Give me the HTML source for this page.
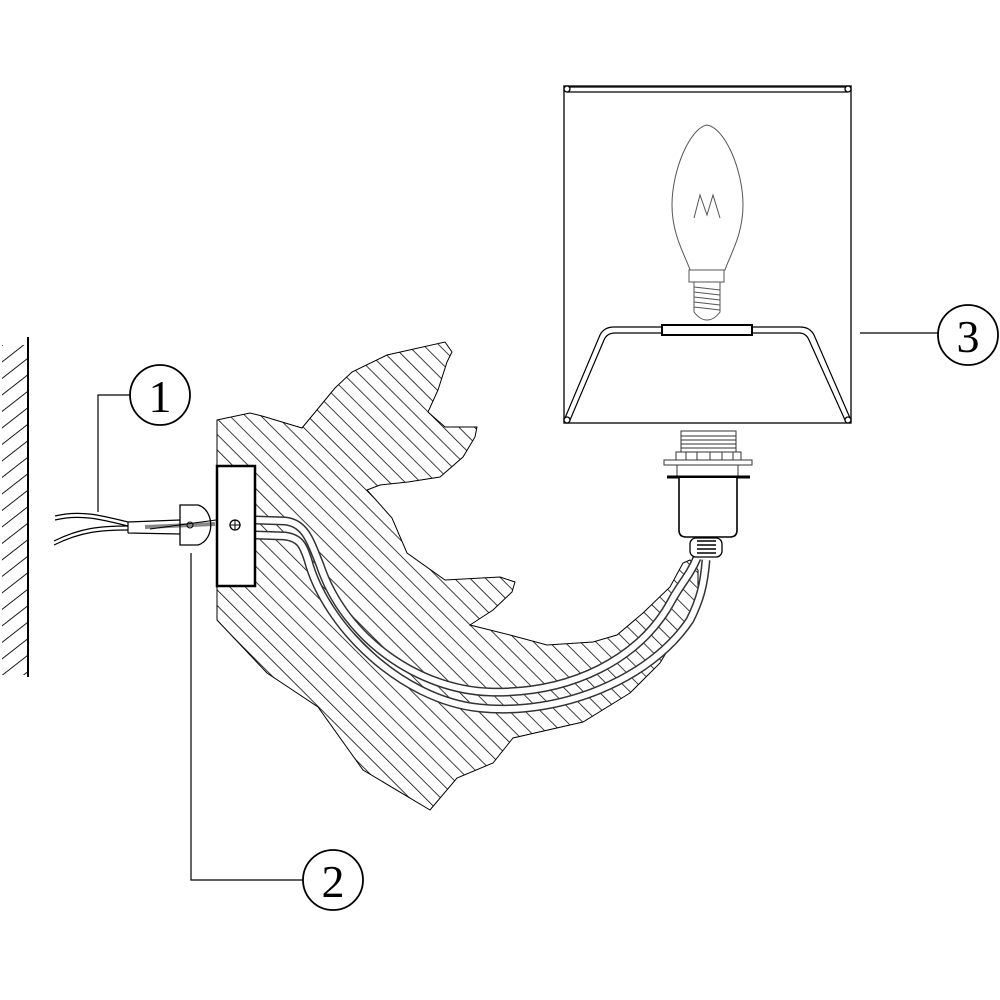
<!DOCTYPE html>
<html><head><meta charset="utf-8"><style>html,body{margin:0;padding:0;background:#fff}svg{display:block}</style></head>
<body>
<svg width="1000" height="1000" viewBox="0 0 1000 1000" xmlns="http://www.w3.org/2000/svg">
<defs>
<pattern id="h" width="11" height="11" patternUnits="userSpaceOnUse" patternTransform="rotate(-45)">
<line x1="0" y1="0" x2="0" y2="11" stroke="#000" stroke-width="1.5"/>
</pattern>
<pattern id="w" width="13" height="13" patternUnits="userSpaceOnUse" patternTransform="rotate(52)">
<line x1="0" y1="0" x2="0" y2="13" stroke="#000" stroke-width="1.8"/>
</pattern>
</defs>
<rect width="1000" height="1000" fill="#fff"/>

<!-- wall -->
<rect x="2" y="345" width="25" height="330" fill="url(#w)"/>
<line x1="28" y1="337" x2="28" y2="677" stroke="#000" stroke-width="2"/>

<!-- body -->
<path d="M217,420 L250,413 L262,416 L302,428 L335,388 L352,372 L387,355 L445,342 L452,352 L447,362 L438,390 L428,412 L445,427 L477,427 L475,437 L463,457 L440,477 L408,482 L380,485 L367,490 L392,518 L407,553 L445,580 L500,577 L515,582 L512,592 L493,610 L470,625 L510,635 L547,645 L593,642 L617,635 L643,613 L670,587 L683,563 L690,560 L698,570 L698,600 L680,630 L660,663 L630,693 L583,722 L513,738 L493,763 L457,778 L430,810 L363,770 L318,707 L267,673 L217,620 Z" fill="url(#h)" stroke="#000" stroke-width="1"/>

<!-- channel strips -->
<g fill="none" stroke-linecap="butt">
<path d="M255,520 L285,521 C305,523 310,540 320,565 C345,640 420,690 490,692 C570,694 640,660 672,600 C680,585 690,575 697,558" stroke="#333" stroke-width="9"/>
<path d="M255,520 L285,521 C305,523 310,540 320,565 C345,640 420,690 490,692 C570,694 640,660 672,600 C680,585 690,575 697,558" stroke="#fff" stroke-width="6"/>
<path d="M255,535 L285,536 C300,538 303,545 308,560 C325,625 400,700 480,708 C560,716 650,680 690,620 C700,600 704,585 706,560" stroke="#333" stroke-width="9"/>
<path d="M255,535 L285,536 C300,538 303,545 308,560 C325,625 400,700 480,708 C560,716 650,680 690,620 C700,600 704,585 706,560" stroke="#fff" stroke-width="6"/>
</g>

<!-- wall plate -->
<rect x="217" y="466" width="38" height="120" fill="#fff" stroke="#000" stroke-width="2.5"/>
<circle cx="235" cy="525" r="5" fill="none" stroke="#000" stroke-width="1.3"/>
<line x1="230" y1="525" x2="240" y2="525" stroke="#000"/><line x1="235" y1="520" x2="235" y2="530" stroke="#000"/>

<!-- wires -->
<g fill="none" stroke="#000" stroke-width="1.2">
<path d="M55,516 C80,510 100,515 128,522"/>
<path d="M55,520 C80,514 100,519 128,526"/>
<path d="M54,545 C80,532 100,530 128,530"/>
<path d="M54,541 C80,528 100,526 128,526"/>
<path d="M128,522 L180,520 M128,533 L180,534 M128,522 L128,533"/>
<path d="M145,527 L215,524" stroke="#888" stroke-width="4"/>
<path d="M150,529 L216,520" stroke="#000" stroke-width="1"/>
</g>
<path d="M180,505 L198,505 C215,510 215,540 198,545 L180,545 Z" fill="none" stroke="#000" stroke-width="1.3"/>
<circle cx="190" cy="525" r="3" fill="none" stroke="#000"/>

<!-- leaders -->
<g fill="none" stroke="#000" stroke-width="1.2">
<path d="M130,395 L98,395 L98,512"/>
<path d="M303,880 L191,880 L191,553"/>
<path d="M938,333 L860,333"/>
</g>
<g fill="#fff" stroke="#000" stroke-width="1.8">
<circle cx="160" cy="395" r="30"/>
<circle cx="333" cy="880" r="30"/>
<circle cx="968" cy="335" r="30"/>
</g>
<g font-family="Liberation Serif, serif" font-size="46" text-anchor="middle">
<text x="160" y="412">1</text>
<text x="333" y="897">2</text>
<text x="968" y="352">3</text>
</g>

<!-- shade -->
<rect x="564" y="86" width="287" height="337" fill="none" stroke="#222" stroke-width="1.5"/>
<path d="M567,87 L848,87 M567,92 L848,92" stroke="#000" stroke-width="1.3"/>
<g fill="#fff" stroke="#000" stroke-width="1.3">
<circle cx="567" cy="89" r="3"/><circle cx="848" cy="89" r="3"/>
<circle cx="567" cy="420" r="3"/><circle cx="848" cy="420" r="3"/>
</g>
<g fill="none" stroke="#000" stroke-width="1.2">
<path d="M565,418 L600,335 Q604,327 614,327 L662,327"/>
<path d="M570,420 L604,340 Q607,333 615,333 L662,333"/>
<path d="M752,327 L800,327 Q810,327 814,335 L850,418"/>
<path d="M752,333 L799,333 Q806,333 809,340 L845,420"/>
</g>
<rect x="662" y="325" width="90" height="10" fill="#fff" stroke="#000" stroke-width="2"/>

<!-- bulb -->
<g fill="none" stroke="#555" stroke-width="1">
<path d="M707,125 C690,128 672,170 672,205 C672,235 685,255 690,270 L725,270 C730,255 743,235 743,205 C743,170 725,128 707,125 Z"/>
<rect x="689" y="270" width="35" height="12"/>
<path d="M694,282 L694,312 Q700,320 707,320 Q714,320 720,312 L720,282"/>
<path d="M694,287 L720,290 M694,292 L720,295 M694,297 L720,300 M694,302 L720,305 M694,307 L720,310"/>
<path d="M694,218 L700,195 L707,215 L713,195 L720,218"/>
</g>

<!-- socket -->
<g fill="#fff" stroke="#333" stroke-width="1">
<rect x="681" y="431" width="55" height="21"/>
<path d="M681,436 H736 M681,440 H736 M681,444 H736 M681,448 H736"/>
<rect x="676" y="452" width="65" height="13"/>
<path d="M686,452 V465 M697,452 V465 M710,452 V465 M722,452 V465 M733,452 V465"/>
<rect x="664" y="460" width="88" height="5"/>
<rect x="677" y="465" width="61" height="11"/>
</g>
<line x1="667" y1="477" x2="750" y2="477" stroke="#000" stroke-width="3"/>
<path d="M679,478 L679,530 Q679,537 686,537 L730,537 Q737,537 737,530 L737,478" fill="#fff" stroke="#000" stroke-width="1.6"/>
<rect x="690" y="538" width="32" height="19" rx="6" fill="#fff" stroke="#000" stroke-width="1.3"/>
<path d="M697,541 H716 M697,545 H716 M697,549 H716 M697,553 H716" stroke="#000" stroke-width="1.5"/>
</svg>
</body></html>
